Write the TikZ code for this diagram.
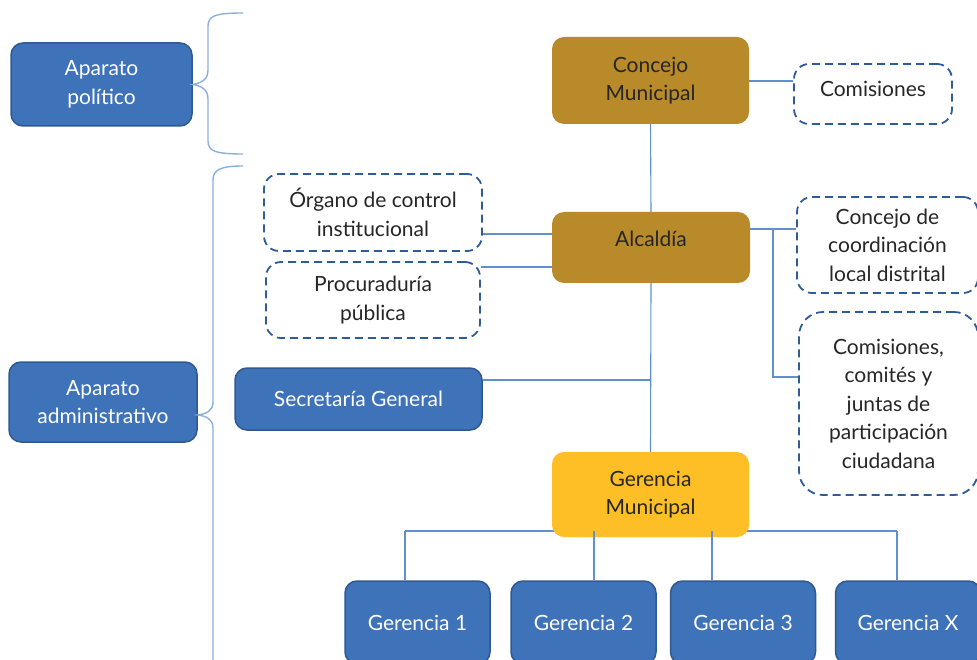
\documentclass[tikz,border=0pt]{standalone}
\usepackage{fontspec}
\setmainfont{Lato}
\usetikzlibrary{positioning}

\definecolor{boxblue}{RGB}{62,114,185}
\definecolor{boxline}{RGB}{46,89,145}
\definecolor{gold}{RGB}{184,138,42}
\definecolor{sun}{RGB}{253,190,38}
\definecolor{dashblue}{RGB}{46,92,150}
\definecolor{linkblue}{RGB}{96,144,206}
\definecolor{braceblue}{RGB}{140,176,222}
\definecolor{ink}{RGB}{38,38,38}

\begin{document}
\begin{tikzpicture}[x=1pt,y=-1pt,
  every node/.style={font=\fontsize{21}{28.5}\selectfont,align=center,inner sep=0pt},
  blue node/.style={rectangle,rounded corners=12pt,fill=boxblue,draw=boxline,line width=1.5pt,text=white},
  gold node/.style={rectangle,rounded corners=12pt,fill=gold,text=ink},
  sun node/.style={rectangle,rounded corners=12pt,fill=sun,text=ink},
  dash node/.style={rectangle,rounded corners=15pt,draw=dashblue,line width=1.8pt,dash pattern=on 8pt off 5pt,text=ink},
  link/.style={draw=linkblue,line width=1.1pt},
  brace/.style={draw=braceblue,line width=1.4pt}]

  \useasboundingbox (0,0) rectangle (977,660);

  % bus under the gerencias
  \coordinate (b1) at (405,531);
  \coordinate (b2) at (594,531);
  \coordinate (b3) at (712,531);
  \coordinate (b4) at (897,531);
  \draw[link] (b1) -- (b4);

  \node[blue node,minimum width=181,minimum height=83] (pol) at (101.5,84.5) {Aparato\\político};
  \node[blue node,minimum width=188,minimum height=80] (adm) at (103,402) {Aparato\\administrativo};

  \node[gold node,minimum width=197,minimum height=87] (concejo) at (650.5,80.5) {Concejo\\Municipal};
  \node[dash node,minimum width=158,minimum height=60,text depth=10pt] (comis) at (873,94) {Comisiones};
  \node[gold node,minimum width=198,minimum height=71,text depth=18pt] (alcaldia) at (651,247.5) {Alcaldía};
  \node[dash node,minimum width=218,minimum height=77] (organo) at (373,212.5) {Órgano de control\\institucional};
  \node[dash node,minimum width=214,minimum height=76] (procu) at (373,300) {Procuraduría\\pública};
  \node[dash node,minimum width=181,minimum height=96] (coord) at (887.5,245) {Concejo de\\coordinación\\local distrital};
  \node[dash node,rounded corners=24pt,minimum width=179,minimum height=183] (comites) at (888.5,403.5) {Comisiones,\\comités y\\juntas de\\participación\\ciudadana};
  \node[blue node,minimum width=247,minimum height=62] (secre) at (358.5,399) {Secretaría General};
  \node[sun node,minimum width=197,minimum height=85] (germun) at (650.5,494.5) {Gerencia\\Municipal};

  \node[blue node,minimum width=145,minimum height=83] (g1) at (417.5,622.5) {Gerencia 1};
  \node[blue node,minimum width=145,minimum height=83] (g2) at (583.5,622.5) {Gerencia 2};
  \node[blue node,minimum width=145,minimum height=83] (g3) at (743,622.5) {Gerencia 3};
  \node[blue node,minimum width=145,minimum height=83] (gx) at (908,622.5) {Gerencia X};

  % braces
  \coordinate (admtip) at (adm.east |- 0,415);
  \draw[brace] (243,13) .. controls (215,13) and (208,16) .. (208,26) -- (208,70)
    .. controls (208,80) and (201,83) .. (pol.east)
    .. controls (201,86) and (208,89) .. (208,99) -- (208,141)
    .. controls (208,151) and (215,154) .. (243,154);
  \draw[brace] (243,166) .. controls (220,166) and (213,170) .. (213,180) -- (213,402)
    .. controls (213,411) and (206,414) .. (admtip)
    .. controls (206,416) and (213,419) .. (213,428) -- (213,672);

  % connectors
  \coordinate (aj) at (773,229);
  \coordinate (sj) at (alcaldia.south |- 0,380);
  \draw[link] (concejo.east |- 0,81) -- (comis.west |- 0,81);
  \draw[link] (concejo.south) -- (alcaldia.north);
  \draw[link] (organo.east |- 0,234) -- (alcaldia.west |- 0,234);
  \draw[link] (procu.east |- 0,267) -- (alcaldia.west |- 0,267);
  \draw[link] (alcaldia.east |- aj) -- (coord.west |- aj);
  \draw[link] (aj) |- (comites.west |- 0,377);
  \draw[link] (alcaldia.south) -- (germun.north);
  \draw[link] (secre.east |- sj) -- (sj);
  \draw[link] (b1) -- (b1 |- g1.north);
  \draw[link] (b2) -- (b2 |- g2.north);
  \draw[link] (b3) -- (b3 |- g3.north);
  \draw[link] (b4) -- (b4 |- gx.north);

\end{tikzpicture}
\end{document}
